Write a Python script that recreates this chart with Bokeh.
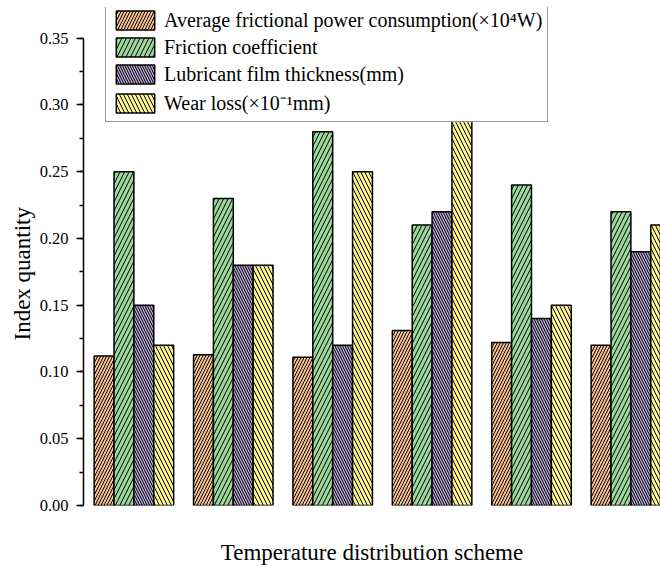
from bokeh.plotting import figure
from bokeh.models import ColumnDataSource, Range1d, SingleIntervalTicker, NumeralTickFormatter, Legend, LegendItem, Title
from bokeh.transform import dodge
from bokeh.embed import file_html
from bokeh.resources import INLINE

# Data
schemes = [1, 2, 3, 4, 5, 6]
power = [0.112, 0.113, 0.111, 0.131, 0.122, 0.120]
friction = [0.25, 0.23, 0.28, 0.21, 0.24, 0.22]
film = [0.15, 0.18, 0.12, 0.22, 0.14, 0.19]
wear = [0.12, 0.18, 0.25, 0.30, 0.15, 0.21]

labels = [
    "Average frictional power consumption(\u00d710\u2074W)",
    "Friction coefficient",
    "Lubricant film thickness(mm)",
    "Wear loss(\u00d710\u207b\u00b9mm)",
]
y_title = "Index quantity"
x_title = "Temperature distribution scheme"

src = ColumnDataSource(dict(x=schemes, power=power, friction=friction, film=film, wear=wear))

FONT = "Liberation Serif"

p = figure(width=660, height=570, output_backend="svg", toolbar_location=None,
           x_range=Range1d(0.493, 6.298), y_range=Range1d(0, 0.373),
           min_border_left=83, min_border_right=0, min_border_top=7, min_border_bottom=65)
p.outline_line_color = None
p.xgrid.visible = False
p.ygrid.visible = False
p.background_fill_color = "white"
p.border_fill_color = "white"

specs = [
    ("power", -0.3, "#F9C18F", "/", 6),
    ("friction", -0.1, "#9FD89E", "/", 9),
    ("film", 0.1, "#B9AAD5", "\\", 5),
    ("wear", 0.3, "#FEF590", "\\", 8),
]
renderers = []
for field, off, color, hatch, scale in specs:
    r = p.vbar(x=dodge("x", off, range=p.x_range), top=field, width=0.2, source=src,
               fill_color=color, line_color="black", line_width=1.5,
               hatch_pattern=hatch, hatch_scale=scale, hatch_color="black", hatch_weight=1)
    renderers.append(r)

# Y axis
ya = p.yaxis[0]
ya.ticker = SingleIntervalTicker(interval=0.05, num_minor_ticks=2)
ya.formatter = NumeralTickFormatter(format="0.00")
ya.bounds = (0, 0.3501)
ya.axis_line_width = 1.5
ya.axis_line_color = "black"
ya.major_tick_out = 7
ya.major_tick_in = 0
ya.minor_tick_out = 4
ya.minor_tick_in = 0
ya.major_tick_line_width = 1.5
ya.minor_tick_line_width = 1.5
ya.major_label_text_font = FONT
ya.major_label_text_font_size = "16.5px"
ya.major_label_text_color = "black"
ya.major_label_standoff = 8

# Y title as a side title, starting a little above the frame bottom
p.add_layout(Title(text=y_title, align="left", offset=165, standoff=4,
                   text_font=FONT, text_font_size="23px", text_font_style="normal",
                   text_color="black"), "left")

# X axis: only the title
xa = p.xaxis[0]
xa.axis_line_color = None
xa.major_tick_line_color = None
xa.minor_tick_line_color = None
xa.major_tick_out = 0
xa.minor_tick_out = 0
xa.major_label_text_font_size = "0px"
xa.major_label_text_color = None
xa.axis_label = x_title
xa.axis_label_text_font = FONT
xa.axis_label_text_font_size = "23px"
xa.axis_label_text_font_style = "normal"
xa.axis_label_text_color = "black"
xa.axis_label_standoff = 34

legend = Legend(items=[LegendItem(label=l, renderers=[r]) for l, r in zip(labels, renderers)],
                location=(22, 383), orientation="vertical")
legend.label_text_font = FONT
legend.label_text_font_size = "20px"
legend.label_text_color = "black"
legend.glyph_width = 48
legend.glyph_height = 24
legend.spacing = 3
legend.padding = 5
legend.margin = 0
legend.label_standoff = 5
legend.border_line_color = "#333333"
legend.border_line_width = 1
legend.background_fill_color = "white"
legend.background_fill_alpha = 1.0
p.add_layout(legend, "center")

open("out.html", "w").write(file_html(p, INLINE))
